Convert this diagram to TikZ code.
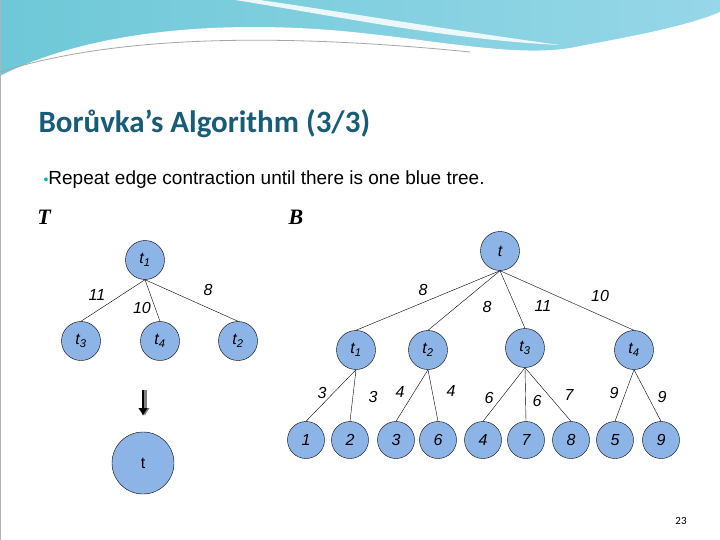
\documentclass[tikz,border=0pt]{standalone}
\usepackage{fontspec}
\usetikzlibrary{arrows.meta}
\setmainfont{Liberation Sans}
\newfontfamily\titlefont{Carlito}
\newfontfamily\serifb{Liberation Serif}
\newcommand{\tsub}[2]{#1\textsubscript{#2}}
\begin{document}
\begin{tikzpicture}[x=1pt,y=-1pt,
  vx/.style={circle,draw=black,thin,fill=nodeblue,minimum size=39pt,inner sep=0pt,font=\itshape\fontsize{16}{16}\selectfont},
  lf/.style={circle,draw=black,thin,fill=nodeblue,minimum size=37pt,inner sep=0pt,font=\itshape\fontsize{16}{16}\selectfont},
  wl/.style={font=\itshape\fontsize{16}{16}\selectfont},
  ed/.style={draw=black,thin}]
\definecolor{nodeblue}{RGB}{141,180,230}
\definecolor{titleblue}{RGB}{23,92,120}
\useasboundingbox (0,0) rectangle (720,540);
\fill[white] (0,0) rectangle (720,540);
\shade[left color={rgb,255:red,110;green,200;blue,215}, right color={rgb,255:red,150;green,215;blue,232}] (0,0) rectangle (720,90);
\fill[white] (0,76) .. controls (80,35) and (200,20) .. (330,30) .. controls (430,38) and (520,60) .. (580,46) .. controls (640,35) and (690,25) .. (720,12) -- (720,540) -- (0,540) -- cycle;
\fill[white,opacity=0.85] (235,0) .. controls (330,15) and (450,40) .. (560,45) .. controls (450,30) and (330,10) .. (260,0) -- cycle;
\draw[gray!70,line width=0.8pt] (0,72) .. controls (100,40) and (250,30) .. (470,52);
\draw[gray!60,line width=1.5pt] (0.7,0) -- (0.7,540);
\node[anchor=west,text=titleblue,font=\titlefont\bfseries\fontsize{31}{31}\selectfont] (title) at (35,124) {Borůvka’s Algorithm (3/3)};
\node[anchor=west,font=\fontsize{19}{19}\selectfont] (bul) at (40,180) {\textcolor{titleblue!50!cyan}{\fontsize{14}{14}\selectfont\symbol{"2022}}Repeat edge contraction until there is one blue tree.};
\node[font=\serifb\bfseries\itshape\fontsize{22}{22}\selectfont] (T) at (44,217) {T};
\node[font=\serifb\bfseries\itshape\fontsize{22}{22}\selectfont] (B) at (296,217) {B};
% left tree
\node[vx] (a1) at (145,260) {\tsub{t}{1}};
\node[vx] (a3) at (81,341) {\tsub{t}{3}};
\node[vx] (a4) at (160,341) {\tsub{t}{4}};
\node[vx] (a2) at (238,341) {\tsub{t}{2}};
\draw[ed] (a1.south) -- (a3.north);
\draw[ed] (a1.south) -- (a4.north);
\draw[ed] (a1.south) -- (a2.north);
\node[wl] at (97,295) {11};
\node[wl] at (142,308) {10};
\node[wl] at (208,290) {8};
\coordinate (ar1) at (143,390);
\coordinate (ar2) at (143,416);
\draw[gray,line width=3pt,-{Latex[length=8pt,width=10pt]}] ([xshift=2pt]ar1) -- ([xshift=2pt]ar2);
\draw[black,line width=2.5pt,-{Latex[length=8pt,width=10pt]}] (ar1) -- (ar2);
\node[circle,draw=black,thin,fill=nodeblue,minimum size=62pt,inner sep=0pt,font=\fontsize{16}{16}\selectfont] (big) at (143,463) {t};
% right tree
\node[vx] (r) at (500,251) {t};
\node[vx] (b1) at (356,350) {\tsub{t}{1}};
\node[vx] (b2) at (428,350) {\tsub{t}{2}};
\node[vx] (b3) at (525,348) {\tsub{t}{3}};
\node[vx] (b4) at (634,350) {\tsub{t}{4}};
\foreach \n in {b1,b2,b3,b4} \draw[ed] (r.south) -- (\n.north);
\node[wl] at (423,290) {8};
\node[wl] at (487,307) {8};
\node[wl] at (543,306) {11};
\node[wl] at (600,296) {10};
\node[lf] (l1) at (306,440) {1};
\node[lf] (l2) at (350,440) {2};
\node[lf] (l3) at (396,440) {3};
\node[lf] (l6) at (438,440) {6};
\node[lf] (l4) at (483,440) {4};
\node[lf] (l7) at (526,440) {7};
\node[lf] (l8) at (571,440) {8};
\node[lf] (l5) at (615,440) {5};
\node[lf] (l9) at (661,440) {9};
\draw[ed] (b1.south) -- (l1.north);
\draw[ed] (b1.south) -- (l2.north);
\draw[ed] (b2.south) -- (l3.north);
\draw[ed] (b2.south) -- (l6.north);
\draw[ed] (b3.south) -- (l4.north);
\draw[ed] (b3.south) -- (l7.north);
\draw[ed] (b3.south) -- (l8.north);
\draw[ed] (b4.south) -- (l5.north);
\draw[ed] (b4.south) -- (l9.north);
\node[wl] at (322,393) {3};
\node[wl] at (373,397) {3};
\node[wl] at (400,392) {4};
\node[wl] at (451,391) {4};
\node[wl] at (489,398) {6};
\node[wl] at (537,401) {6};
\node[wl] at (569,395) {7};
\node[wl] at (614,393) {9};
\node[wl] at (662,397) {9};
\node[font=\titlefont\fontsize{11}{11}\selectfont] (pg) at (681,521) {23};
\end{tikzpicture}
\end{document}
